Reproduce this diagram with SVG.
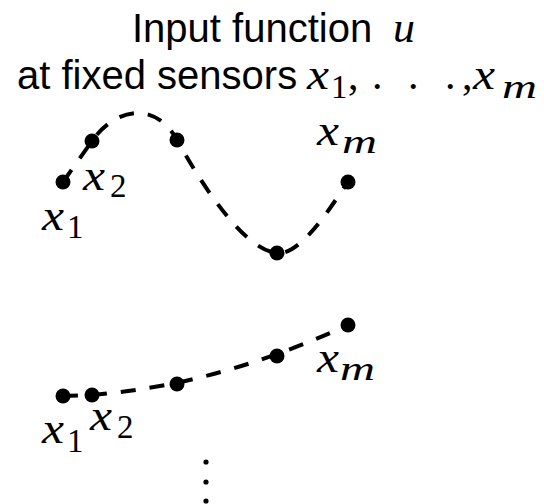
<svg xmlns="http://www.w3.org/2000/svg" width="544" height="504" viewBox="0 0 544 504">
<style>
.sans{font-family:"Liberation Sans",Arial,sans-serif;font-size:40px;fill:#000}
.mi{font-family:"Liberation Serif","Times New Roman",serif;font-style:italic;font-size:44px;fill:#000}
.sub{font-family:"Liberation Serif","Times New Roman",serif;font-size:33px;fill:#000}
.subi{font-family:"Liberation Serif","Times New Roman",serif;font-style:italic;font-size:33px;fill:#000}
.rm{font-family:"Liberation Serif","Times New Roman",serif;font-size:42px;fill:#000}
.curve{fill:none;stroke:#000;stroke-width:4;stroke-dasharray:15 14}
.pt{fill:#000}
</style>
<g id="title">
<text class="sans" x="132" y="42">Input function</text>
<text class="mi" x="393" y="42" textLength="22" lengthAdjust="spacingAndGlyphs">u</text>
<text class="sans" x="17" y="89">at fixed sensors</text>
<text class="mi" x="307" y="89" textLength="22" lengthAdjust="spacingAndGlyphs">x</text>
<text class="sub" x="331" y="98">1</text>
<text class="rm" x="348" y="89">,</text>
<text class="rm" x="372" y="89">.</text>
<text class="rm" x="408" y="89">.</text>
<text class="rm" x="445" y="89">.</text>
<text class="rm" x="462" y="89">,</text>
<text class="mi" x="473" y="89" textLength="22" lengthAdjust="spacingAndGlyphs">x</text>
<text class="subi" x="502" y="98" textLength="35" lengthAdjust="spacingAndGlyphs">m</text>
</g>
<g id="connectors">
<path class="curve" d="M63,182 C70,172 82.8,154.2 92,141 C115,108 155,100 177,140 C192,167 240,250 277,253 C302,256 335,200 348,182"/>
<path class="curve" d="M63,396 Q200,393 348,325"/>
</g>
<g id="function1">
<circle class="pt" cx="63" cy="182" r="7.5"/>
<circle class="pt" cx="92" cy="141" r="7.5"/>
<circle class="pt" cx="177" cy="140" r="7.5"/>
<circle class="pt" cx="277" cy="253" r="7.5"/>
<circle class="pt" cx="348" cy="182" r="7.5"/>
<text class="mi" x="42" y="230" textLength="22" lengthAdjust="spacingAndGlyphs">x</text>
<text class="sub" x="67" y="238">1</text>
<text class="mi" x="83" y="190" textLength="22" lengthAdjust="spacingAndGlyphs">x</text>
<text class="sub" x="110" y="197">2</text>
<text class="mi" x="317" y="145" textLength="22" lengthAdjust="spacingAndGlyphs">x</text>
<text class="subi" x="342" y="153" textLength="35" lengthAdjust="spacingAndGlyphs">m</text>
</g>
<g id="function2">
<circle class="pt" cx="63" cy="396" r="7.5"/>
<circle class="pt" cx="92" cy="395" r="7.5"/>
<circle class="pt" cx="177" cy="384" r="7.5"/>
<circle class="pt" cx="277" cy="356" r="7.5"/>
<circle class="pt" cx="348" cy="325" r="7.5"/>
<text class="mi" x="42" y="443" textLength="22" lengthAdjust="spacingAndGlyphs">x</text>
<text class="sub" x="67" y="452">1</text>
<text class="mi" x="90" y="430" textLength="22" lengthAdjust="spacingAndGlyphs">x</text>
<text class="sub" x="117" y="438">2</text>
<text class="mi" x="317" y="372" textLength="22" lengthAdjust="spacingAndGlyphs">x</text>
<text class="subi" x="340" y="380" textLength="35" lengthAdjust="spacingAndGlyphs">m</text>
</g>
<g id="more">
<circle class="pt" cx="206" cy="462" r="2.6"/>
<circle class="pt" cx="206" cy="482" r="2.6"/>
<circle class="pt" cx="206" cy="501" r="2.6"/>
</g>
</svg>
